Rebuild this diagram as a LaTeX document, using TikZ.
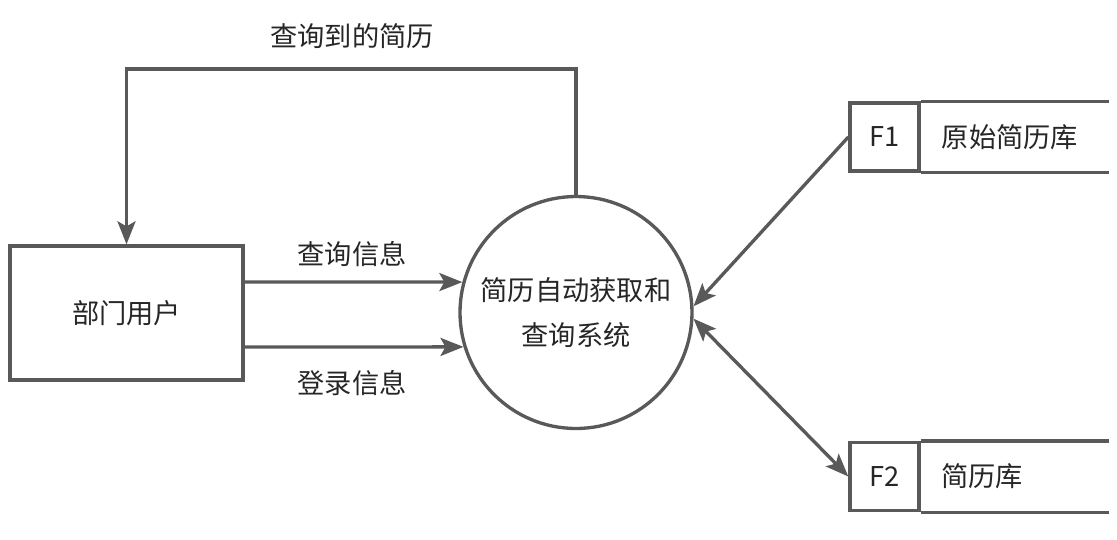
\documentclass[tikz,border=0pt]{standalone}
\usepackage{fontspec}
\setmainfont{Noto Sans CJK SC}
\usepackage{tikz}
\usetikzlibrary{arrows.meta}
\usepackage{xcolor}
\definecolor{lineGray}{HTML}{595959}
\definecolor{textGray}{HTML}{262626}

\begin{document}
\begin{tikzpicture}[x=0.02cm,y=-0.02cm,>={Stealth[length=4.6mm,width=3.6mm,inset=1mm]},
  font=\fontsize{15.5}{25.5}\selectfont,text=textGray,
  every path/.style={draw=lineGray,line width=1.9pt},
  store/.style={draw=lineGray,line width=1.9pt,minimum width=1.38cm,minimum height=1.36cm,inner sep=0pt}]
\useasboundingbox[draw=none] (0,0) rectangle (1117,539);
\node[draw,minimum width=4.66cm,minimum height=2.68cm] (usr) at (126.5,313) {部门用户};
\node[draw,circle,minimum size=4.64cm,inner sep=0pt,align=center] (sys) at (576,312.5) {简历自动获取和\\查询系统};
\node[store] (f1) at (884.5,137) {F1};
\node[store] (f2) at (884.5,476.5) {F2};
\node (d1) at (1010,137) {原始简历库};
\node (d2) at (982,476.5) {简历库};
\draw (f1.north east) -- ++(188,0);
\draw (f1.south east) -- ++(188,0);
\draw (f2.north east) -- ++(188,0);
\draw (f2.south east) -- ++(188,0);
% flows
\coordinate (q) at (243,282);
\coordinate (l) at (243,347);
\draw[->] (q) -- (sys.165);
\draw[->] (l) -- (sys.197);
\node (qlab) at (352,254) {查询信息};
\node (llab) at (352,383) {登录信息};
\draw[->] (sys.north) -- ++(0,-126) -| (usr.north);
\node (rlab) at (352,36) {查询到的简历};
\draw[->] (f1.west) -- (sys.3);
\draw[<->] (sys.-3) -- (f2.west);
\end{tikzpicture}
\end{document}
